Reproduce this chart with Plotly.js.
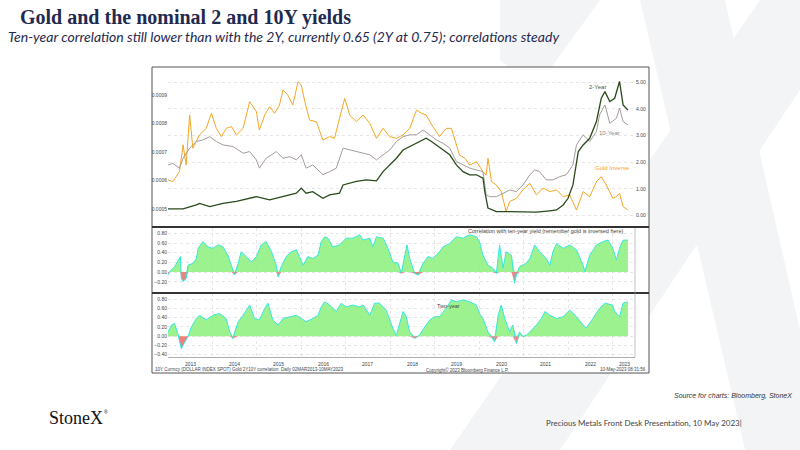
<!DOCTYPE html>
<html>
<head>
<meta charset="utf-8">
<script src="https://cdn.plot.ly/plotly-3.0.1.min.js"></script>
<style>
  html, body { margin: 0; padding: 0; background: #fff; }
  #chart { width: 800px; height: 450px; }
</style>
</head>
<body>
<div id="chart"></div>
<script>
// decimal years + values
const goldT = [2013.00,2013.11,2013.26,2013.34,2013.41,2013.49,2013.56,2013.71,2013.86,2013.98,2014.09,2014.20,2014.31,2014.43,2014.54,2014.69,2014.84,2014.99,2015.06,2015.18,2015.29,2015.40,2015.51,2015.59,2015.70,2015.81,2015.93,2016.00,2016.08,2016.19,2016.34,2016.49,2016.64,2016.75,2016.86,2016.98,2017.09,2017.24,2017.39,2017.54,2017.69,2017.84,2017.99,2018.14,2018.29,2018.44,2018.59,2018.70,2018.81,2018.96,2019.11,2019.26,2019.38,2019.45,2019.56,2019.68,2019.79,2019.94,2020.09,2020.16,2020.20,2020.28,2020.39,2020.50,2020.61,2020.69,2020.84,2020.99,2021.14,2021.29,2021.44,2021.59,2021.74,2021.89,2022.04,2022.19,2022.34,2022.49,2022.64,2022.75,2022.86,2023.01,2023.09,2023.16,2023.24,2023.35];
const goldInverse = [6.02,5.96,6.31,7.25,6.54,8.30,7.13,7.60,7.83,8.36,7.83,7.54,7.83,7.89,7.60,7.83,8.77,8.42,7.77,8.30,8.59,8.36,8.65,9.18,9.00,8.65,9.47,9.35,8.77,8.12,8.06,7.42,7.54,7.48,8.18,8.88,8.30,8.06,8.30,8.01,7.48,7.83,7.54,7.48,7.60,7.83,8.47,8.36,8.30,7.89,7.54,7.83,7.83,7.48,6.89,6.78,6.54,6.66,6.31,6.19,6.78,5.96,5.84,5.61,4.91,5.26,5.37,5.67,5.90,5.49,5.73,5.61,5.67,5.43,5.49,4.96,5.61,5.43,5.96,6.13,5.84,5.37,5.43,5.55,5.08,4.96].map(v => v * 1e-4);

const twoT = [2013.00,2013.34,2013.64,2013.71,2013.94,2014.24,2014.54,2014.84,2014.99,2015.29,2015.59,2015.89,2016.00,2016.11,2016.26,2016.49,2016.64,2016.86,2016.94,2017.24,2017.46,2017.69,2017.84,2017.99,2018.14,2018.29,2018.44,2018.59,2018.74,2018.81,2018.93,2019.04,2019.19,2019.34,2019.49,2019.64,2019.79,2019.94,2020.09,2020.13,2020.20,2020.39,2020.69,2020.99,2021.29,2021.59,2021.74,2021.89,2022.00,2022.11,2022.23,2022.34,2022.49,2022.64,2022.75,2022.83,2022.94,2023.05,2023.16,2023.24,2023.35];
const twoYear = [0.25,0.25,0.40,0.46,0.34,0.46,0.53,0.65,0.71,0.59,0.71,0.84,1.03,0.84,0.90,0.65,0.78,0.84,1.15,1.28,1.34,1.30,1.65,1.90,2.15,2.46,2.59,2.71,2.84,2.90,2.78,2.65,2.46,2.28,1.90,1.65,1.53,1.53,1.40,0.90,0.28,0.15,0.15,0.15,0.13,0.18,0.21,0.40,0.65,1.15,2.40,2.65,2.90,3.53,4.40,4.65,4.28,4.40,5.03,4.15,3.96];

const tenT = [2013.00,2013.11,2013.26,2013.34,2013.49,2013.64,2013.79,2013.94,2014.09,2014.24,2014.46,2014.69,2014.84,2014.99,2015.06,2015.21,2015.44,2015.59,2015.74,2015.89,2016.00,2016.11,2016.26,2016.49,2016.64,2016.79,2016.94,2017.09,2017.24,2017.39,2017.54,2017.69,2017.84,2017.99,2018.14,2018.29,2018.44,2018.59,2018.74,2018.89,2019.04,2019.19,2019.34,2019.49,2019.64,2019.79,2019.94,2020.09,2020.16,2020.24,2020.39,2020.54,2020.69,2020.84,2020.99,2021.14,2021.25,2021.36,2021.51,2021.66,2021.81,2021.96,2022.11,2022.19,2022.34,2022.49,2022.64,2022.71,2022.83,2022.94,2023.09,2023.16,2023.24,2023.35];
const tenYear = [1.90,1.96,1.78,2.15,2.53,2.78,2.84,2.96,2.78,2.65,2.59,2.34,2.40,2.09,1.78,2.15,2.40,2.15,2.21,2.09,2.28,1.78,1.90,1.53,1.65,1.78,2.53,2.46,2.40,2.34,2.28,2.09,2.28,2.46,2.78,2.96,3.03,3.03,3.21,3.03,2.84,2.71,2.53,2.03,1.90,1.78,1.71,1.65,0.78,0.71,0.71,0.84,0.96,0.90,1.15,1.53,1.71,1.65,1.34,1.34,1.46,1.53,1.90,2.65,3.03,2.78,3.15,3.78,4.15,3.46,3.65,4.03,3.53,3.40];

const corr10T = [2013.00,2013.04,2013.15,2013.23,2013.28,2013.30,2013.34,2013.41,2013.45,2013.56,2013.64,2013.68,2013.79,2013.90,2014.01,2014.13,2014.24,2014.35,2014.43,2014.50,2014.58,2014.65,2014.76,2014.88,2014.99,2015.10,2015.21,2015.33,2015.44,2015.48,2015.55,2015.66,2015.78,2015.89,2015.96,2016.04,2016.15,2016.26,2016.38,2016.45,2016.53,2016.60,2016.71,2016.86,2017.01,2017.16,2017.31,2017.39,2017.54,2017.61,2017.69,2017.84,2017.95,2018.06,2018.18,2018.25,2018.33,2018.38,2018.44,2018.55,2018.63,2018.74,2018.85,2018.96,2019.11,2019.19,2019.34,2019.49,2019.64,2019.79,2019.94,2020.01,2020.09,2020.20,2020.31,2020.39,2020.46,2020.54,2020.61,2020.73,2020.80,2020.84,2020.91,2021.06,2021.14,2021.25,2021.36,2021.51,2021.59,2021.66,2021.74,2021.89,2022.04,2022.19,2022.34,2022.38,2022.49,2022.64,2022.79,2022.90,2023.01,2023.09,2023.16,2023.24,2023.35];
const corr10 = [-0.06,0.01,0.11,0.25,0.32,-0.13,-0.19,-0.14,0.14,0.18,0.28,0.49,0.63,0.52,0.49,0.56,0.52,0.35,0.11,-0.06,0.18,0.42,0.32,0.21,0.32,0.56,0.63,0.42,0.14,-0.10,0.11,0.32,0.42,0.46,0.32,0.14,0.32,0.28,0.35,0.63,0.73,0.70,0.52,0.56,0.70,0.70,0.77,0.66,0.70,0.52,0.73,0.70,0.49,0.21,0.18,-0.03,0.35,0.56,0.28,-0.03,-0.06,0.18,0.32,0.28,0.42,0.52,0.59,0.73,0.70,0.77,0.73,0.63,0.35,0.14,0.08,-0.03,0.56,0.08,0.42,0.35,-0.23,-0.06,0.11,0.18,0.28,0.56,0.42,0.28,0.14,0.42,0.59,0.49,0.56,0.46,0.14,0.01,0.35,0.56,0.63,0.66,0.49,0.25,0.49,0.66,0.66];

const corr2T = [2013.00,2013.08,2013.15,2013.23,2013.30,2013.38,2013.45,2013.53,2013.64,2013.71,2013.86,2014.01,2014.16,2014.31,2014.39,2014.46,2014.58,2014.69,2014.84,2014.95,2015.06,2015.18,2015.25,2015.36,2015.48,2015.59,2015.74,2015.89,2016.00,2016.11,2016.26,2016.38,2016.45,2016.53,2016.64,2016.79,2016.90,2017.01,2017.16,2017.31,2017.39,2017.54,2017.65,2017.76,2017.91,2018.06,2018.14,2018.21,2018.29,2018.36,2018.44,2018.55,2018.66,2018.78,2018.89,2019.00,2019.11,2019.26,2019.38,2019.49,2019.64,2019.79,2019.94,2020.01,2020.09,2020.20,2020.31,2020.35,2020.43,2020.50,2020.58,2020.69,2020.76,2020.84,2020.91,2020.99,2021.06,2021.14,2021.29,2021.40,2021.48,2021.59,2021.74,2021.89,2022.04,2022.19,2022.34,2022.41,2022.56,2022.71,2022.83,2023.00,2023.05,2023.16,2023.24,2023.35];
const corr2 = [0.09,0.24,0.27,0.02,-0.27,-0.12,-0.01,0.20,0.38,0.45,0.35,0.45,0.49,0.38,0.09,-0.05,0.31,0.45,0.67,0.38,0.35,0.60,0.71,0.35,0.24,0.38,0.42,0.45,0.38,0.31,0.38,0.45,0.63,0.74,0.67,0.53,0.71,0.63,0.67,0.63,0.67,0.45,0.71,0.71,0.56,0.17,0.02,0.24,0.53,0.42,0.09,-0.05,0.02,0.20,0.35,0.42,0.42,0.60,0.78,0.74,0.78,0.74,0.67,0.49,0.38,0.09,-0.05,-0.12,0.45,0.67,0.38,0.09,0.24,-0.16,0.09,-0.01,0.02,0.09,0.24,0.38,0.53,0.45,0.38,0.42,0.56,0.42,0.24,0.17,0.38,0.60,0.71,0.67,0.53,0.42,0.71,0.74];

const years = ['2013','2014','2015','2016','2017','2018','2019','2020','2021','2022','2023'];

const toDate = t => {
  const y = Math.floor(t);
  return new Date(Date.UTC(y, 0, 1) + (t - y) * 365.25 * 864e5).toISOString().slice(0, 10);
};

const PX = (x) => x / 800, PY = (y) => 1 - y / 450;
const xr = ['2013-01-01', '2023-07-05'];
const tiny = { family: 'Liberation Sans, Arial', size: 5, color: '#444' };

const corrTraces = (t, v, xa, ya) => {
  const d = t.map(toDate);
  return [
    { x: d, y: v.map(a => Math.max(a, 0)), xaxis: xa, yaxis: ya, type: 'scatter', mode: 'lines',
      line: { width: 0 }, fill: 'tozeroy', fillcolor: 'rgba(140,240,125,0.85)', hoverinfo: 'skip' },
    { x: d, y: v.map(a => Math.min(a, 0)), xaxis: xa, yaxis: ya, type: 'scatter', mode: 'lines',
      line: { width: 0 }, fill: 'tozeroy', fillcolor: '#f08080', hoverinfo: 'skip' },
    { x: d, y: v, xaxis: xa, yaxis: ya, type: 'scatter', mode: 'lines',
      line: { color: '#35e8e0', width: 1 } },
  ];
};

const data = [
  { x: goldT.map(toDate), y: goldInverse, xaxis: 'x', yaxis: 'y', type: 'scatter', mode: 'lines',
    line: { color: '#f5a623', width: 1 } },
  { x: tenT.map(toDate), y: tenYear, xaxis: 'x', yaxis: 'y2', type: 'scatter', mode: 'lines',
    line: { color: '#a49c9a', width: 1 } },
  { x: twoT.map(toDate), y: twoYear, xaxis: 'x', yaxis: 'y2', type: 'scatter', mode: 'lines',
    line: { color: '#2b4a1c', width: 1.3 } },
  ...corrTraces(corr10T, corr10, 'x2', 'y3'),
  ...corrTraces(corr2T, corr2, 'x3', 'y4'),
];

const xbase = { type: 'date', range: xr, domain: [PX(168), PX(635)], showticklabels: false,
  zeroline: false, dtick: 'M12', tick0: '2014-01-01', gridcolor: '#d6d6d6', griddash: 'dot', gridwidth: 0.6 };
const ybase = { tickfont: tiny, zeroline: false, gridcolor: '#d6d6d6', griddash: 'dot', gridwidth: 0.6,
  ticks: '', tickformat: '.2f' };

const hline = (x0, x1, y, w, c) => ({ type: 'line', xref: 'paper', yref: 'paper',
  x0: PX(x0), x1: PX(x1), y0: PY(y), y1: PY(y), line: { color: c || '#333', width: w } });

const note = (x, y, text, opts) => Object.assign({ xref: 'paper', yref: 'paper', x: PX(x), y: PY(y),
  text, showarrow: false, font: tiny, xanchor: 'left', yanchor: 'middle' }, opts || {});

const layout = {
  width: 800, height: 450, margin: { l: 0, r: 0, t: 0, b: 0 },
  paper_bgcolor: '#fff', plot_bgcolor: 'rgba(0,0,0,0)', showlegend: false,
  xaxis: Object.assign({}, xbase, { anchor: 'y', showgrid: false }),
  xaxis2: Object.assign({}, xbase, { anchor: 'y3' }),
  xaxis3: Object.assign({}, xbase, { anchor: 'y4', showline: true, linecolor: '#777', linewidth: 0.6 }),
  yaxis: Object.assign({}, ybase, { domain: [PY(222), PY(70)], range: [0.000454, 0.000988],
    tickvals: [0.0005, 0.0006, 0.0007, 0.0008, 0.0009], tickformat: '.4f', showgrid: false, ticklen: 1 }),
  yaxis2: Object.assign({}, ybase, { domain: [PY(222), PY(70)], range: [-0.24, 5.46], overlaying: 'y',
    side: 'right', dtick: 1, anchor: 'x' }),
  yaxis3: Object.assign({}, ybase, { domain: [PY(290), PY(228)], range: [-0.37, 0.91],
    tickvals: [-0.2, 0, 0.2, 0.4, 0.6, 0.8] }),
  yaxis4: Object.assign({}, ybase, { domain: [PY(357), PY(293)], range: [-0.45, 0.93],
    tickvals: [-0.4, -0.2, 0, 0.2, 0.4, 0.6, 0.8] }),
  shapes: [
    // watermark X
    { type: 'path', xref: 'paper', yref: 'paper', layer: 'below', line: { width: 0 }, fillcolor: '#f3f4f6',
      path: `M ${PX(640)} 1 L ${PX(725)} 1 L 1 ${PY(330)} L 1 ${PY(450)} L ${PX(745)} ${PY(450)} Z` },
    { type: 'path', xref: 'paper', yref: 'paper', layer: 'below', line: { width: 0 }, fillcolor: '#f3f4f6',
      path: `M 1 1 L 1 ${PY(90)} L ${PX(560)} ${PY(450)} L ${PX(450)} ${PY(450)} L ${PX(760)} 1 Z` },
    { type: 'path', xref: 'paper', yref: 'paper', layer: 'below', line: { width: 0 }, fillcolor: '#f3f4f6',
      path: `M ${PX(500)} 1 L ${PX(600)} 1 L ${PX(535)} ${PY(90)} L ${PX(500)} ${PY(60)} Z` },
    { type: 'rect', xref: 'paper', yref: 'paper', layer: 'below', x0: PX(152), x1: PX(649), y0: PY(373), y1: PY(67),
      fillcolor: '#fff', line: { color: '#555', width: 1 } },
    hline(152, 649, 227, 2, '#333'),
    hline(152, 649, 293, 2, '#333'),
    { type: 'line', xref: 'paper', yref: 'paper', x0: PX(635), x1: PX(635), y0: PY(357), y1: PY(228),
      line: { color: '#999', width: 0.6 } },
  ],
  annotations: [
    note(18, 17, 'Gold and the nominal 2 and 10Y yields',
      { font: { family: 'Liberation Serif, serif', size: 20, color: '#1f2a50', weight: 'bold' } }),
    note(6, 37, '<i>Ten-year correlation still lower than with the 2Y, currently 0.65 (2Y at 0.75); correlations steady</i>',
      { font: { family: 'Lato, sans-serif', size: 14, color: '#1f2a50' } }),
    note(587, 87, '2-Year', { font: Object.assign({}, tiny, { color: '#4a5a3a', size: 6 }) }),
    note(597, 133, '10-Year', { font: Object.assign({}, tiny, { color: '#888', size: 6 }) }),
    note(593, 168, 'Gold Inverse', { font: Object.assign({}, tiny, { color: '#f5a623', size: 6 }) }),
    note(466, 231, 'Correlation with ten-year yield (remember gold is inversed here)', { font: Object.assign({}, tiny, { size: 5.5 }) }),
    note(435, 306, 'Two-year', { font: Object.assign({}, tiny, { size: 5.5 }) }),
    note(153, 369.5, '10Y Currncy (DOLLAR INDEX SPOT) Gold 2Y10Y correlation  Daily 02MAR2013-10MAY2023', { font: Object.assign({}, tiny, { size: 4.5 }) }),
    note(424, 369.5, 'Copyright© 2023 Bloomberg Finance L.P.', { font: Object.assign({}, tiny, { size: 4.5 }) }),
    note(648, 369.5, '10-May-2023 08:31:56', { xanchor: 'right', font: Object.assign({}, tiny, { size: 4.5 }) }),
    note(794, 396, '<i>Source for charts: Bloomberg, StoneX</i>',
      { xanchor: 'right', font: { family: 'Liberation Sans, Arial', size: 7, color: '#333' } }),
    note(544, 423, 'Precious Metals Front Desk Presentation, 10 May 2023|',
      { font: { family: 'Lato, sans-serif', size: 8, color: '#444' } }),
    note(47, 418, 'StoneX', { font: { family: 'Liberation Serif, serif', size: 18, color: '#111' } }),
    note(102, 412, '®', { font: { family: 'Liberation Sans, Arial', size: 5, color: '#111' } }),
    ...years.map(y => ({ xref: 'x3', yref: 'paper', x: y === '2023' ? '2023-04-10' : y + '-07-01',
      y: PY(364), text: y, showarrow: false, font: tiny, yanchor: 'middle' })),
  ],
};

Plotly.newPlot('chart', data, layout, { staticPlot: true });
</script>
</body>
</html>
